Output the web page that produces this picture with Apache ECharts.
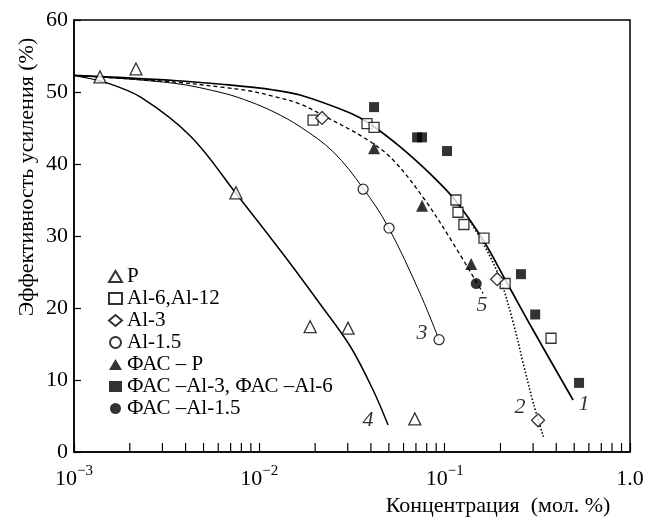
<!DOCTYPE html>
<html>
<head>
<meta charset="utf-8">
<script src="https://cdn.jsdelivr.net/npm/echarts@6/dist/echarts.min.js"></script>
<style>
  html, body { margin: 0; padding: 0; background: #fff; }
  #main { width: 655px; height: 518px; }
</style>
</head>
<body>
<div id="main"></div>
<script>
// experimental points -----------------------------------------
var pX = [0.00138, 0.00216, 0.00748, 0.0188, 0.0301, 0.069];
var pY = [52.1, 53.2, 36.0, 17.4, 17.2, 4.6];
var al6X = [0.0195, 0.0381, 0.0416, 0.115, 0.118, 0.127, 0.163, 0.212, 0.375];
var al6Y = [46.1, 45.6, 45.1, 35.0, 33.3, 31.6, 29.7, 23.4, 15.8];
var al3X = [0.0218, 0.192, 0.319];
var al3Y = [46.4, 24.0, 4.4];
var al15X = [0.0363, 0.0501, 0.0933];
var al15Y = [36.5, 31.1, 15.6];
var fpX = [0.0416, 0.0755, 0.139];
var fpY = [42.2, 34.2, 26.1];
var fal3X = [0.0416, 0.0710, 0.0755, 0.103, 0.258, 0.308, 0.531];
var fal3Y = [47.9, 43.7, 43.7, 41.8, 24.7, 19.1, 9.6];
var fal15X = [0.148];
var fal15Y = [23.4];

// fitted curves 1..5 ------------------------------------------
var c1X = [0.001, 0.00347, 0.00645, 0.0120, 0.0166, 0.0309, 0.0396, 0.0574, 0.0866, 0.1138, 0.1612, 0.2171, 0.300, 0.493];
var c1Y = [52.31, 51.60, 51.04, 50.28, 49.58, 47.08, 45.56, 42.40, 38.24, 35.0, 29.44, 23.47, 16.94, 7.22];
var c2X = [0.1371, 0.1612, 0.1991, 0.2349, 0.2659, 0.3011, 0.3410];
var c2Y = [32.03, 29.03, 24.03, 17.88, 12.22, 6.76, 2.13];
var c3X = [0.001, 0.00347, 0.00645, 0.00891, 0.0120, 0.0166, 0.0250, 0.0363, 0.0495, 0.0736, 0.0933];
var c3Y = [52.31, 51.21, 49.82, 48.65, 47.22, 45.18, 41.71, 36.63, 31.29, 22.04, 15.56];
var c4X = [0.001, 0.00151, 0.00230, 0.00428, 0.00748, 0.01343, 0.02127, 0.03087, 0.04109, 0.04949];
var c4Y = [52.31, 51.25, 49.24, 43.79, 35.93, 27.5, 20.56, 14.72, 8.61, 3.75];
var c5X = [0.001, 0.00347, 0.00645, 0.00891, 0.0120, 0.0166, 0.0221, 0.0381, 0.0527, 0.0783, 0.1110, 0.1612];
var c5Y = [52.31, 51.39, 50.63, 50.14, 49.38, 48.33, 46.74, 43.40, 40.56, 35.0, 28.99, 22.04];

// curve numbers
var numNames = ['1', '2', '3', '4', '5'];
var numX = [0.565, 0.255, 0.0755, 0.0386, 0.159];
var numY = [6.7, 6.25, 16.5, 4.4, 20.4];

// minor ticks of the log axis
var minorTicks = [0.002, 0.003, 0.004, 0.005, 0.006, 0.007, 0.008, 0.009,
    0.02, 0.03, 0.04, 0.05, 0.06, 0.07, 0.08, 0.09,
    0.2, 0.3, 0.4, 0.5, 0.6, 0.7, 0.8, 0.9];

var legendNames = ['P', 'Al-6,Al-12', 'Al-3', 'Al-1.5', 'ФАС – Р', 'ФАС –Al-3, ФАС –Al-6', 'ФАС –Al-1.5'];

function zip(xs, ys) {
    return xs.map(function (x, i) { return [x, ys[i]]; });
}

var FONT = '"Liberation Serif", "DejaVu Serif", serif';

var myChart = echarts.init(document.getElementById('main'));

function openPts(name, symbol, size, xs, ys) {
    return {
        name: name, type: 'scatter', symbol: symbol, symbolSize: size,
        data: zip(xs, ys), z: 5,
        itemStyle: {color: '#fff', borderColor: '#000', borderWidth: 1.3}
    };
}
function fullPts(name, symbol, size, xs, ys) {
    return {
        name: name, type: 'scatter', symbol: symbol, symbolSize: size,
        data: zip(xs, ys), z: 5,
        itemStyle: {color: '#000', borderColor: '#000', borderWidth: 0}
    };
}
function curve(xs, ys, width, type) {
    return {
        type: 'line', data: zip(xs, ys), smooth: 0.35, symbol: 'none', z: 2,
        silent: true,
        lineStyle: {color: '#000', width: width, type: type}
    };
}

var option = {
    animation: false,
    backgroundColor: '#fff',
    grid: {left: 74, right: 25, top: 20, bottom: 66, show: true, borderColor: '#000', borderWidth: 1.5},
    legend: {
        orient: 'vertical', left: 103, top: 261, itemGap: 1,
        itemWidth: 13, itemHeight: 11,
        textStyle: {fontFamily: FONT, fontSize: 21, color: '#000'},
        data: legendNames
    },
    xAxis: {
        type: 'log', logBase: 10, min: 0.001, max: 1,
        axisLine: {lineStyle: {color: '#000', width: 1.5}},
        axisTick: {inside: true, length: 9, lineStyle: {color: '#000', width: 1.2}},
        splitLine: {show: false},
        axisLabel: {
            margin: 12, color: '#000',
            formatter: function (v) {
                if (v >= 1) return '{b|1.0}';
                var e = Math.round(Math.log10(v));
                return '{b|10}{s|−' + (-e) + '}';
            },
            rich: {
                b: {fontFamily: FONT, fontSize: 22, color: '#000', lineHeight: 26, verticalAlign: 'bottom'},
                s: {fontFamily: FONT, fontSize: 15, color: '#000', lineHeight: 26, verticalAlign: 'top', padding: [0, 0, 12, 0]}
            }
        }
    },
    yAxis: {
        type: 'value', min: 0, max: 60, interval: 10,
        axisLine: {lineStyle: {color: '#000', width: 1.5}},
        axisTick: {inside: true, length: 7, lineStyle: {color: '#000', width: 1.2}},
        splitLine: {show: false},
        axisLabel: {margin: 6, color: '#000', fontFamily: FONT, fontSize: 22}
    },
    graphic: [
        {
            type: 'text', x: 27, y: 177, rotation: Math.PI / 2,
            style: {text: 'Эффективность усиления (%)', fontFamily: FONT, fontSize: 22, fill: '#000',
                align: 'center', verticalAlign: 'middle'}
        },
        {
            type: 'text', x: 498, y: 506,
            style: {text: 'Концентрация  (мол. %)', fontFamily: FONT, fontSize: 22, fill: '#000',
                align: 'center', verticalAlign: 'middle'}
        }
    ],
    series: [
        curve(c1X, c1Y, 1.7, 'solid'),
        curve(c2X, c2Y, 1.6, [1.5, 2]),
        curve(c3X, c3Y, 1, 'solid'),
        curve(c4X, c4Y, 1.5, 'solid'),
        curve(c5X, c5Y, 1.3, [4, 3]),
        openPts(legendNames[0], 'triangle', 12, pX, pY),
        openPts(legendNames[1], 'rect', 10, al6X, al6Y),
        openPts(legendNames[2], 'diamond', 13, al3X, al3Y),
        openPts(legendNames[3], 'circle', 10, al15X, al15Y),
        fullPts(legendNames[4], 'triangle', 12, fpX, fpY),
        fullPts(legendNames[5], 'rect', 10, fal3X, fal3Y),
        fullPts(legendNames[6], 'circle', 11, fal15X, fal15Y),
        {
            type: 'scatter', silent: true, symbolSize: 0, z: 6,
            data: numNames.map(function (n, i) { return {name: n, value: [numX[i], numY[i]]}; }),
            label: {show: true, position: 'inside', formatter: '{b}', fontFamily: FONT,
                fontStyle: 'italic', fontSize: 22, color: '#000'}
        },
        {
            type: 'custom', silent: true, z: 3,
            data: minorTicks.map(function (t) { return [t, 0]; }),
            renderItem: function (params, api) {
                var p = api.coord([api.value(0), 0]);
                return {
                    type: 'line',
                    shape: {x1: p[0], y1: p[1], x2: p[0], y2: p[1] - 9},
                    style: {stroke: '#000', lineWidth: 1.2}
                };
            }
        }
    ]
};

myChart.setOption(option);
</script>
</body>
</html>
